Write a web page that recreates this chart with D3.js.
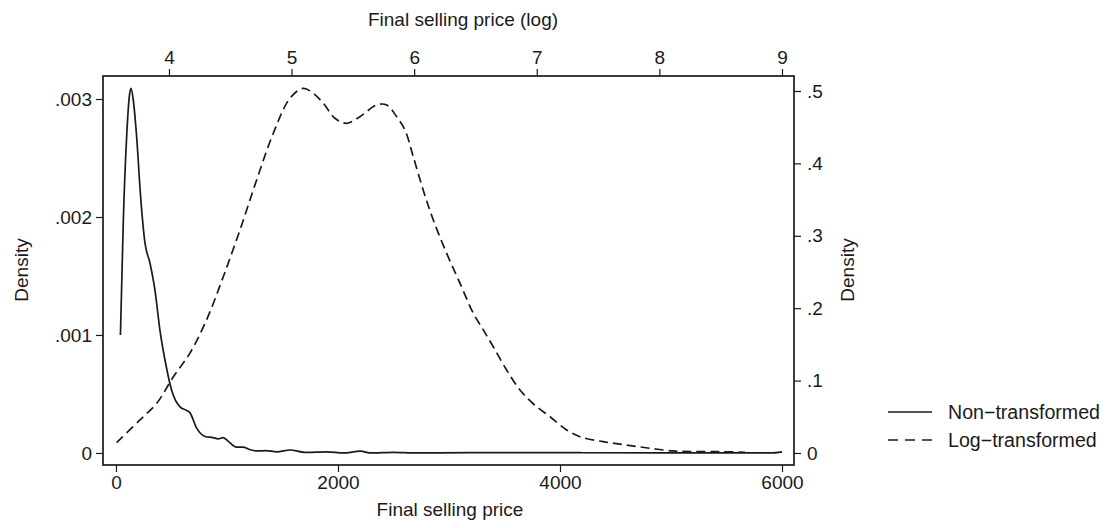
<!DOCTYPE html>
<html>
<head>
<meta charset="utf-8">
<script src="https://cdn.jsdelivr.net/npm/d3@7"></script>
<style>
  body { margin: 0; background: #fff; }
  svg { display: block; font-family: "Liberation Sans", Arial, sans-serif; }
</style>
</head>
<body>
<div id="chart"></div>
<script>
// non-transformed density (price, density)
var priceX = [40, 66, 96, 120, 135, 156, 186, 222, 261, 306, 351, 396, 441, 502, 577, 637, 667, 727, 802, 874, 920, 964, 1010, 1087, 1144, 1200, 1268, 1350, 1450, 1568, 1700, 1900, 2050, 2200, 2300, 2500, 2700, 3200, 4200, 5000, 5900, 6000];
var priceDensity = [0.00100, 0.00197, 0.00268, 0.00302, 0.00309, 0.00299, 0.00268, 0.00217, 0.00178, 0.00161, 0.00138, 0.00104, 0.00079, 0.00053, 0.00039, 0.00036, 0.00034, 0.00021, 0.00014, 0.00013, 0.00012, 0.00013, 0.00010, 0.00005, 0.00005, 0.00003, 0.000017, 0.00002, 0.00001, 0.000025, 0.000005, 0.00001, 0, 0.000015, 0, 0.000005, 0, 0.000003, 0.000002, 0, 0, 0.00001];

// log-transformed density (log price, density)
var logX = [3.573, 3.763, 3.90, 4.035, 4.171, 4.307, 4.443, 4.579, 4.715, 4.851, 4.987, 5.095, 5.177, 5.259, 5.354, 5.449, 5.558, 5.694, 5.776, 5.857, 5.925, 5.993, 6.074, 6.156, 6.265, 6.374, 6.482, 6.564, 6.645, 6.754, 6.863, 6.971, 7.108, 7.244, 7.352, 7.542, 7.733, 7.923, 8.113, 8.276, 8.494, 8.698];
var logDensity = [0.0142, 0.0456, 0.0686, 0.105, 0.138, 0.184, 0.2435, 0.308, 0.377, 0.4416, 0.490, 0.5037, 0.4968, 0.483, 0.4623, 0.4554, 0.4645, 0.4807, 0.4807, 0.4645, 0.446, 0.409, 0.363, 0.3218, 0.2758, 0.2344, 0.193, 0.170, 0.1468, 0.1146, 0.087, 0.068, 0.050, 0.0318, 0.0225, 0.0156, 0.011, 0.0065, 0.0028, 0.0018, 0.0018, 0.001];

var priceTicks = [0, 2000, 4000, 6000];
var logTicks = [4, 5, 6, 7, 8, 9];
var leftTicks = [0, 0.001, 0.002, 0.003];
var rightTicks = [0, 0.1, 0.2, 0.3, 0.4, 0.5];
var seriesNames = ["Non\u2212transformed", "Log\u2212transformed"];

var width = 1111, height = 528;
var plotLeft = 103, plotRight = 794, plotTop = 76, plotBottom = 465;
var ink = "#1a1a1a";
var dash = "9,5";
var fontSize = "19px";

var svg = d3.select("#chart").append("svg")
    .attr("width", width)
    .attr("height", height);

// scales
var xPrice = d3.scaleLinear().domain([-117, 6108]).range([plotLeft, plotRight]);
var xLog = d3.scaleLinear().domain([3.462, 9.098]).range([plotLeft, plotRight]);
var yLeft = d3.scaleLinear().domain([-0.000102, 0.003195]).range([plotBottom, plotTop]);
var yRight = d3.scaleLinear().domain([-0.0166, 0.5207]).range([plotBottom, plotTop]);

var fmt = function(d) { return d === 0 ? "0" : d3.format(".3~f")(d).replace(/^0/, ""); };

function styleAxis(g) {
    g.select(".domain").remove();
    g.selectAll(".tick line").attr("stroke", ink).attr("stroke-width", 1.2);
    g.selectAll(".tick text").attr("fill", ink).style("font-size", fontSize);
}

svg.append("g")
    .attr("transform", "translate(0," + plotBottom + ")")
    .call(d3.axisBottom(xPrice).tickValues(priceTicks).tickSize(7).tickPadding(4).tickFormat(d3.format("d")))
    .call(styleAxis);

svg.append("g")
    .attr("transform", "translate(0," + plotTop + ")")
    .call(d3.axisTop(xLog).tickValues(logTicks).tickSize(7).tickPadding(5).tickFormat(d3.format("d")))
    .call(styleAxis);

svg.append("g")
    .attr("transform", "translate(" + plotLeft + ",0)")
    .call(d3.axisLeft(yLeft).tickValues(leftTicks).tickSize(7).tickPadding(4).tickFormat(fmt))
    .call(styleAxis);

svg.append("g")
    .attr("transform", "translate(" + plotRight + ",0)")
    .call(d3.axisRight(yRight).tickValues(rightTicks).tickSize(7).tickPadding(6).tickFormat(fmt))
    .call(styleAxis);

// frame
svg.append("rect")
    .attr("x", plotLeft).attr("y", plotTop)
    .attr("width", plotRight - plotLeft).attr("height", plotBottom - plotTop)
    .attr("fill", "none").attr("stroke", ink).attr("stroke-width", 1.7);

// curves
var solidLine = d3.line()
    .x(function(d, i) { return xPrice(priceX[i]); })
    .y(function(d, i) { return yLeft(priceDensity[i]); })
    .curve(d3.curveMonotoneX);

var dashedLine = d3.line()
    .x(function(d, i) { return xLog(logX[i]); })
    .y(function(d, i) { return yRight(logDensity[i]); })
    .curve(d3.curveCatmullRom);

svg.append("path")
    .attr("d", solidLine(priceX))
    .attr("fill", "none").attr("stroke", ink).attr("stroke-width", 1.7);

svg.append("path")
    .attr("d", dashedLine(logX))
    .attr("fill", "none").attr("stroke", ink).attr("stroke-width", 1.7)
    .attr("stroke-dasharray", dash);

// titles
svg.append("text")
    .attr("x", 463).attr("y", 26)
    .attr("text-anchor", "middle").attr("fill", ink)
    .style("font-size", fontSize)
    .text("Final selling price (log)");

svg.append("text")
    .attr("x", 450).attr("y", 516)
    .attr("text-anchor", "middle").attr("fill", ink)
    .style("font-size", fontSize)
    .text("Final selling price");

svg.append("text")
    .attr("transform", "translate(28,270) rotate(-90)")
    .attr("text-anchor", "middle").attr("fill", ink)
    .style("font-size", fontSize)
    .text("Density");

svg.append("text")
    .attr("transform", "translate(854,270) rotate(-90)")
    .attr("text-anchor", "middle").attr("fill", ink)
    .style("font-size", fontSize)
    .text("Density");

// legend
var legend = svg.append("g");
seriesNames.forEach(function(name, i) {
    var y = 412 + i * 28;
    legend.append("line")
        .attr("x1", 888).attr("x2", 932)
        .attr("y1", y).attr("y2", y)
        .attr("stroke", ink).attr("stroke-width", 1.7)
        .attr("stroke-dasharray", i === 1 ? "10,7" : null);
    legend.append("text")
        .attr("x", 948).attr("y", y + 7)
        .attr("fill", ink)
        .style("font-size", "19.6px")
        .text(name);
});
</script>
</body>
</html>
